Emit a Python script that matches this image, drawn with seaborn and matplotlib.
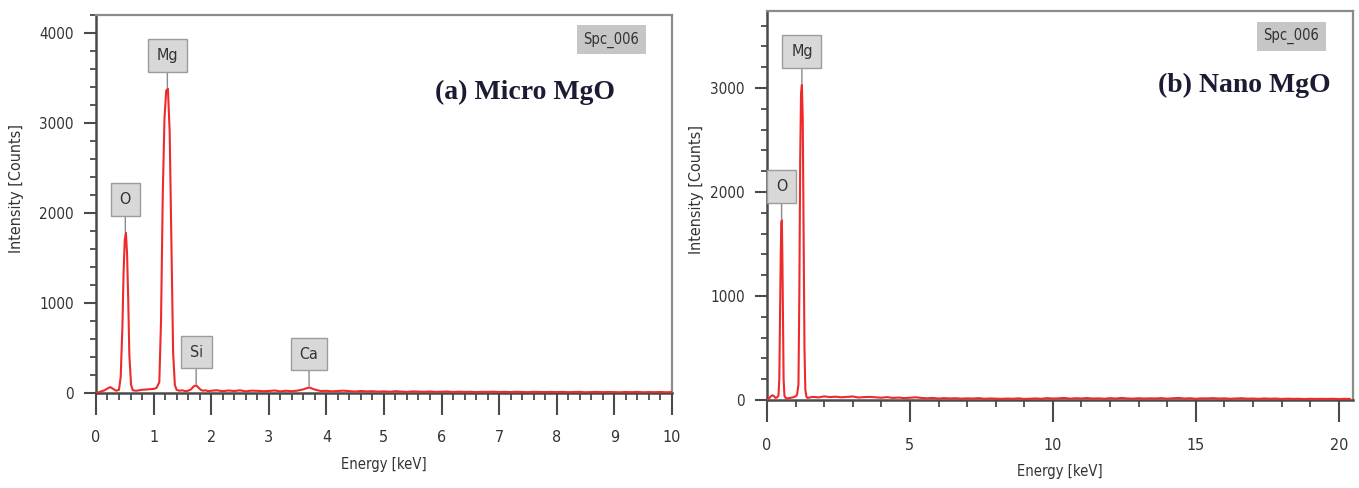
"""
EDS spectra of micro and nano MgO, redrawn with seaborn.
"""
import matplotlib
matplotlib.use("Agg")
import matplotlib.pyplot as plt
from matplotlib.ticker import MultipleLocator
from matplotlib import font_manager
import seaborn as sns
import numpy as np
import pandas as pd

# ---- (a) Micro MgO: peak region ----
micro_peak_energy = [0.00, 0.05, 0.10, 0.15, 0.20, 0.25, 0.30, 0.35, 0.40, 0.43,
                     0.46, 0.48, 0.50, 0.52, 0.54, 0.56, 0.58, 0.61, 0.64, 0.70,
                     0.80, 0.90, 1.00, 1.05, 1.10, 1.13, 1.16, 1.19, 1.22, 1.25,
                     1.28, 1.31, 1.34, 1.37, 1.40, 1.45, 1.50, 1.55, 1.60, 1.65,
                     1.70, 1.74, 1.78, 1.82, 1.86, 1.90, 1.95]
micro_peak_counts = [0, 8, 20, 30, 50, 65, 45, 25, 35, 180,
                     750, 1350, 1700, 1780, 1550, 1050, 420, 90, 30, 25,
                     35, 40, 45, 55, 120, 800, 2200, 3050, 3360, 3380,
                     2900, 1700, 450, 90, 35, 25, 30, 20, 25, 40,
                     75, 85, 60, 35, 25, 30, 20]
# baseline from 2.0 keV to 10.0 keV, one reading every 0.1 keV
micro_base_start, micro_base_step = 2.0, 0.1
micro_base_counts = [25, 30, 20, 28, 22, 30, 18, 26, 24, 20,
                     22, 28, 18, 25, 20, 26, 40, 62, 38, 22,
                     24, 18, 22, 26, 20, 16, 22, 18, 20, 15,
                     18, 14, 20, 16, 12, 18, 15, 13, 17, 12,
                     14, 16, 11, 15, 12, 14, 10, 13, 12, 15,
                     11, 13, 10, 14, 12, 9, 13, 11, 10, 12,
                     10, 12, 9, 11, 13, 8, 10, 12, 9, 11,
                     10, 8, 11, 9, 12, 8, 10, 9, 11, 8, 10]
micro_elements = ["O", "Mg", "Si", "Ca"]
micro_element_energy = [0.51, 1.24, 1.74, 3.70]
micro_element_counts = [1780, 3380, 85, 62]

# ---- (b) Nano MgO ----
nano_peak_energy = [0.00, 0.05, 0.10, 0.15, 0.20, 0.25, 0.30, 0.35, 0.40, 0.43,
                    0.46, 0.48, 0.50, 0.52, 0.54, 0.56, 0.58, 0.61, 0.65, 0.70,
                    0.80, 0.90, 1.00, 1.05, 1.10, 1.13, 1.16, 1.19, 1.22, 1.25,
                    1.28, 1.31, 1.34, 1.38, 1.42, 1.50]
nano_peak_counts = [0, 10, 25, 40, 45, 35, 20, 25, 40, 200,
                    900, 1400, 1700, 1730, 1300, 700, 200, 40, 20, 15,
                    20, 25, 35, 50, 150, 1000, 2300, 2950, 3030, 2700,
                    1600, 500, 100, 30, 20, 25]
# baseline from 1.6 keV to 20.4 keV, one reading every 0.2 keV
nano_base_start, nano_base_step = 1.6, 0.2
nano_base_counts = [30, 25, 35, 28, 32, 26, 30, 34, 24, 28,
                    30, 26, 22, 28, 20, 24, 18, 22, 26, 20,
                    16, 20, 14, 18, 15, 17, 13, 16, 14, 18,
                    12, 15, 13, 11, 14, 12, 16, 10, 13, 15,
                    12, 18, 14, 16, 20, 13, 17, 15, 19, 14,
                    16, 12, 18, 14, 20, 15, 13, 17, 14, 16,
                    15, 18, 13, 16, 20, 14, 17, 12, 16, 15,
                    18, 14, 16, 12, 15, 17, 13, 14, 11, 15,
                    12, 14, 10, 13, 11, 12, 9, 12, 10, 11,
                    10, 12, 9, 11, 10]
nano_elements = ["O", "Mg"]
nano_element_energy = [0.51, 1.22]
nano_element_counts = [1730, 3030]

titles = ["(a) Micro MgO", "(b) Nano MgO"]
spectrum_tag = "Spc_006"

sns.set_style("ticks")
plt.rcParams["font.family"] = ["DejaVu Sans"]

# the source software uses a narrow face; take DejaVu Sans Condensed if present
condensed = [f.name for f in font_manager.fontManager.ttflist
             if f.name == "DejaVu Sans" and f.stretch == "condensed"]
if condensed:
    plt.rcParams["font.stretch"] = "condensed"
    TICK_SIZE, LABEL_SIZE = 11, 11
else:
    TICK_SIZE, LABEL_SIZE = 10, 10

RED = "#ee2a2a"
DARK = "#4a4a4a"
LIGHT = "#8c8c8c"


def build_frame(peak_e, peak_c, base_start, base_step, base_c):
    base_e = np.round(base_start + base_step * np.arange(len(base_c)), 3)
    return pd.DataFrame({"energy": list(peak_e) + list(base_e),
                         "counts": list(peak_c) + list(base_c)})


def draw_panel(ax, df, xmax, ymax, xmajor, xminor, elements, e_pos, e_counts,
               title, title_xy, ylabel_x):
    sns.lineplot(data=df, x="energy", y="counts", ax=ax, color=RED,
                 linewidth=1.5, sort=False, zorder=3)
    ax.set_xlim(0, xmax)
    ax.set_ylim(0, ymax)
    ax.xaxis.set_major_locator(MultipleLocator(xmajor))
    ax.xaxis.set_minor_locator(MultipleLocator(xminor))
    ax.yaxis.set_major_locator(MultipleLocator(1000))
    ax.yaxis.set_minor_locator(MultipleLocator(200))
    ax.tick_params(axis="x", which="major", length=16, width=1.5, color=DARK,
                   pad=11, labelsize=TICK_SIZE + 0.5, labelcolor="#333333")
    ax.tick_params(axis="x", which="minor", length=5, width=1.3, color=DARK)
    ax.tick_params(axis="y", which="major", length=9, width=1.5, color=DARK,
                   pad=7, labelsize=TICK_SIZE, labelcolor="#333333")
    ax.tick_params(axis="y", which="minor", length=4, width=1.3, color=DARK)
    for side in ["left", "bottom"]:
        ax.spines[side].set_color(DARK)
        ax.spines[side].set_linewidth(1.8)
    for side in ["top", "right"]:
        ax.spines[side].set_visible(True)
        ax.spines[side].set_color(LIGHT)
        ax.spines[side].set_linewidth(1.6)
    ax.set_xlabel("Energy [keV]", fontsize=LABEL_SIZE - 0.5, color="#333333",
                  labelpad=8)
    ax.set_ylabel("Intensity [Counts]", fontsize=11.5, color="#333333")
    ax.yaxis.set_label_coords(ylabel_x, 0.54)

    for name, e, c in zip(elements, e_pos, e_counts):
        ax.annotate(name, xy=(e, c), xytext=(0, 24), textcoords="offset points",
                    ha="center", va="center", fontsize=LABEL_SIZE + 0.5,
                    color="#333333",
                    bbox=dict(boxstyle="square,pad=0.55", fc="#d8d8d8",
                              ec="#9c9c9c", lw=1),
                    arrowprops=dict(arrowstyle="-", color="#8a8a8a", lw=1,
                                    shrinkA=0, shrinkB=1),
                    zorder=5)

    ax.text(0.895, 0.935, spectrum_tag, transform=ax.transAxes, ha="center",
            va="center", fontsize=LABEL_SIZE - 0.5, color="#333333",
            bbox=dict(boxstyle="square,pad=0.45", fc="#c6c6c6", ec="none"))
    ax.text(title_xy[0], title_xy[1], title, transform=ax.transAxes,
            ha="center", va="center", fontsize=20, fontweight="bold",
            fontstretch="normal", color="#1b1b33",
            family=["Liberation Serif", "DejaVu Serif"])


fig = plt.figure(figsize=(13.59, 4.88), dpi=100)
ax_a = fig.add_axes([0.0706, 0.1947, 0.4238, 0.7746])
ax_b = fig.add_axes([0.5644, 0.1803, 0.4312, 0.7971])

micro_df = build_frame(micro_peak_energy, micro_peak_counts,
                       micro_base_start, micro_base_step, micro_base_counts)
nano_df = build_frame(nano_peak_energy, nano_peak_counts,
                      nano_base_start, nano_base_step, nano_base_counts)

draw_panel(ax_a, micro_df, 10, 4200, 1, 0.2, micro_elements,
           micro_element_energy, micro_element_counts, titles[0],
           (0.745, 0.794), -0.125)
draw_panel(ax_b, nano_df, 20.5, 3740, 5, 1, nano_elements,
           nano_element_energy, nano_element_counts, titles[1],
           (0.814, 0.81), -0.107)

fig.savefig("out.png", dpi=100)
plt.close(fig)
